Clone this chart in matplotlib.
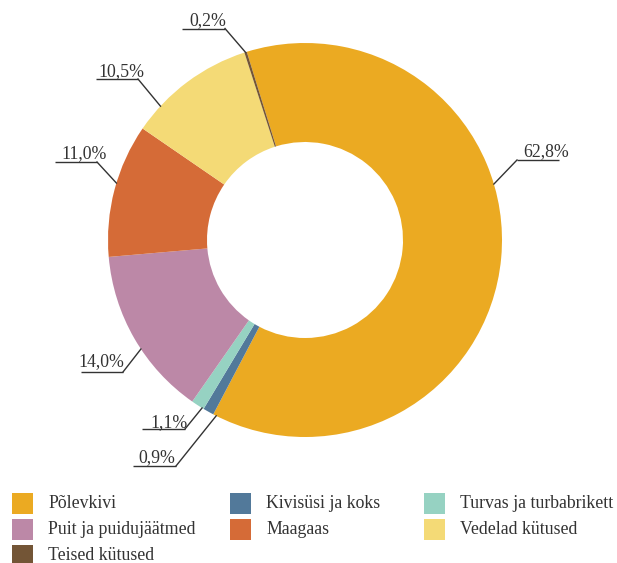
import numpy as np
import matplotlib
matplotlib.use("Agg")
import matplotlib.pyplot as plt
from matplotlib.patches import Rectangle

categories = ["Põlevkivi", "Kivisüsi ja koks", "Turvas ja turbabrikett",
              "Puit ja puidujäätmed", "Maagaas", "Vedelad kütused", "Teised kütused"]
values = [62.8, 0.9, 1.1, 14.0, 11.0, 10.5, 0.2]
colors = ["#EBAA22", "#52799A", "#96D2C2", "#BC88A7", "#D56B37", "#F4DA76", "#735536"]
value_labels = ["62,8%", "0,9%", "1,1%", "14,0%", "11,0%", "10,5%", "0,2%"]

W, H = 617, 563
fig = plt.figure(figsize=(W / 100, H / 100), dpi=100)
ax = fig.add_axes([0, 0, 1, 1])

cx, cy, R = 305, H - 240, 197
start = 107.2
ax.pie(values, colors=colors, center=(cx, cy), radius=R, startangle=start,
       counterclock=False, wedgeprops=dict(width=99, edgecolor="none", linewidth=0))

# label layout (pixel coords, y from top): text position, underline x0,x1,y, anchor angle (deg clockwise from top)
text_pos = [(523, 156), (138, 462), (150, 427), (78, 366), (61, 158), (98, 76), (189, 25)]
underline = [(517, 559, 160), (133, 176, 466), (142, 185, 429), (81, 123, 372),
             (55, 97, 162), (96, 138, 79), (182, 225, 28.5)]
anchor_ang = [73.5, -153.2, -148.5, -123.6, -73.2, -47.2, -17.6]
connect_left = [True, False, False, False, False, False, False]

font = ["Liberation Serif", "DejaVu Serif"]
tc = "#333333"
for lab, (tx, ty), (u0, u1, uy), ang, cl in zip(value_labels, text_pos, underline, anchor_ang, connect_left):
    ax.text(tx, H - ty, lab, ha="left", va="baseline", fontsize=12.8, family=font, color=tc)
    ax.plot([u0, u1], [H - uy, H - uy], color=tc, lw=1.0, solid_capstyle="butt")
    a = np.deg2rad(ang)
    axp, ayp = cx + R * np.sin(a), cy + R * np.cos(a)
    ex = u0 if cl else u1
    ax.plot([ex, axp], [H - uy, ayp], color=tc, lw=1.0)

# legend (row-wise, 3 columns)
col_x = [12, 230, 424]
row_y = [493, 519, 545]
legend_rows = [[0, 1, 2], [3, 4, 5], [6]]
for r, row in enumerate(legend_rows):
    for c, k in enumerate(row):
        x0 = col_x[c]
        y0 = row_y[r]
        ax.add_patch(Rectangle((x0, H - y0 - 21), 21, 21, facecolor=colors[k], edgecolor="none"))
        ax.text(x0 + 36, H - y0 - 15, categories[k], ha="left", va="baseline",
                fontsize=12.8, family=font, color=tc)

ax.set_xlim(0, W)
ax.set_ylim(0, H)
ax.set_aspect("auto")
ax.axis("off")
fig.savefig("out.png", dpi=100)
